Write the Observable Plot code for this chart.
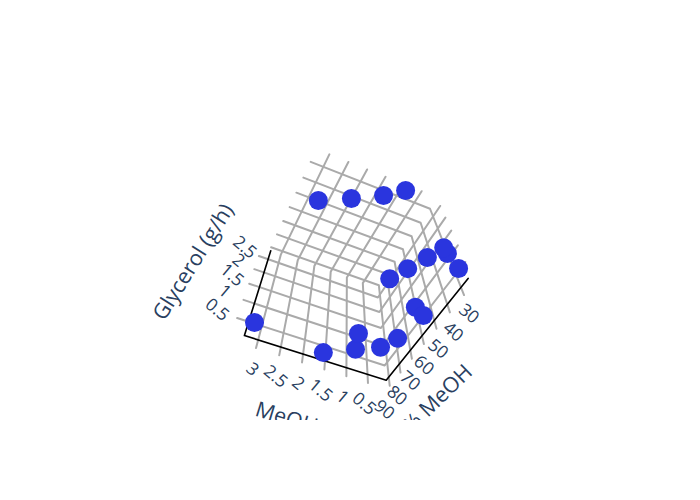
<!DOCTYPE html>
<html><head><meta charset="utf-8">
<script src="https://cdn.jsdelivr.net/npm/d3@7"></script>
<script src="https://cdn.jsdelivr.net/npm/@observablehq/plot@0.6"></script>
<style>body{margin:0;background:#fff}</style></head><body>
<div id="chart"></div>
<script>
// Data
const meoh     = [3.19,1.61,0.85,0.74,0.20,0.18,0.18,0.19,0.05,0.15,0.16,0.17,0.38,0.61,2.96,2.32,1.49,0.87];
const pctMeoh  = [90.0,89.1,89.3,90.3,89.5,74.3,56.8,52.5,27.5,28.2,28.8,40.3,50.8,60.1,32.9,27.3,27.2,25.3];
const glycerol = [0.43,0.21,0.54,1.02,0.81,0.54,0.70,0.32,0.54,0.97,1.18,1.45,1.50,1.50,1.50,1.61,2.31,2.85];
const meohTicks = [0.5,1,1.5,2,2.5,3];
const pctTicks  = [30,40,50,60,70,80,90];
const glyTicks  = [0.5,1,1.5,2,2.5];
const meohRange = [0.05,3.3], pctRange = [25,92.5], glyRange = [0.16,2.85];
// Perspective camera (homography of the unit cube)
const camX = [385.72202,-155.31977,5.28978,111.60757];
const camY = [379.72130,-63.23516,-147.33698,0.20536];
const camW = [-0.05541,-0.16382,0.32097];

const P = m => (m-meohRange[0])/(meohRange[1]-meohRange[0]);
const Q = v => (pctRange[1]-v)/(pctRange[1]-pctRange[0]);
const R = g => (g-glyRange[0])/(glyRange[1]-glyRange[0]);
const proj = (p,q,r) => {
  const w = 1+camW[0]*p+camW[1]*q+camW[2]*r;
  return {x:(camX[0]+camX[1]*p+camX[2]*q+camX[3]*r)/w, y:(camY[0]+camY[1]*p+camY[2]*q+camY[3]*r)/w};
};
const grid = [];
const add = (id,pts) => pts.forEach(a => grid.push({id,...proj(...a)}));
meohTicks.forEach(m => add('m'+m,[[P(m),1.04,1],[P(m),0,1],[P(m),0,-.07]]));
pctTicks.forEach(v => add('v'+v,[[1.01,Q(v),1],[0,Q(v),1],[0,Q(v),-.07]]));
glyTicks.forEach(g => add('g'+g,[[1.08,0,R(g)],[0,0,R(g)],[0,1.03,R(g)]]));
const axisA = [[0,1,0],[0,0,0],[1,0,0],[1,0,1]].map(a => proj(...a));
const labels = [];
meohTicks.forEach(m => {const c=proj(P(m),0,0);labels.push({x:c.x-6+3*(1-P(m)),y:c.y+29.5,t:String(m)});});
pctTicks.forEach(v => {const q=Q(v),c=proj(0,q,0);labels.push({x:c.x-5+14*q,y:c.y+33-7*q,t:String(v)});});
glyTicks.forEach(g => {const r=R(g),c=proj(1,0,r);labels.push({x:c.x-33+11*r,y:c.y-12,t:String(g)});});
const off = (c,dx,dy,t,a) => ({x:c.x+dx,y:c.y+dy,t,a});
const titles = [
  off(proj(.5,0,0),3,70,'MeOH (mL/h)',17),
  off(proj(0,.5,0),14,65,'% MeOH',-44),
  off(proj(1,0,.5),-66,-25,'Glycerol (g/h)',-58)
];
const points = meoh.map((m,i) => proj(P(m),Q(pctMeoh[i]),R(glycerol[i])));
const F = '"Open Sans",sans-serif';
document.getElementById('chart').append(Plot.plot({
  width:700,height:500,marginTop:0,marginLeft:0,marginRight:0,marginBottom:80,
  x:{domain:[0,700],range:[0,700],axis:null},y:{domain:[0,420],range:[0,420],axis:null},
  marks:[
    Plot.line(grid,{x:'x',y:'y',z:'id',stroke:'#aaa',strokeWidth:2}),
    Plot.line(axisA,{x:'x',y:'y',stroke:'#000',strokeWidth:1.6}),
    Plot.text(labels,{x:'x',y:'y',text:'t',rotate:40,fontSize:17.5,fontFamily:F,fill:'#2a3f5f',clip:true}),
    ...titles.map(d => Plot.text([d],{x:'x',y:'y',text:'t',rotate:d.a,fontSize:21.5,fontFamily:F,fill:'#2a3f5f',clip:true})),
    Plot.dot(points,{x:'x',y:'y',r:9.5,fill:'#2a35de'})
  ]
}));
</script></body></html>
